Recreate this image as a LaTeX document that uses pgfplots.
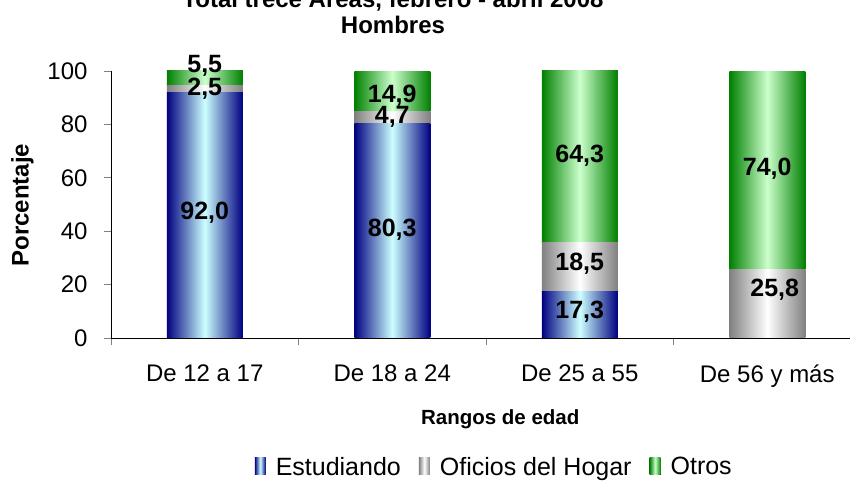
\documentclass[border=0pt]{standalone}
\usepackage{fontspec}
\setmainfont{Liberation Sans}
\usepackage{pgfplots}
\pgfplotsset{compat=1.18}

\definecolor{azulosc}{HTML}{000080}
\definecolor{azulcla}{HTML}{CCFFFF}
\definecolor{grisosc}{HTML}{808080}
\definecolor{verdeosc}{HTML}{008000}
\definecolor{verdecla}{HTML}{CCFFCC}

\pgfplotsset{
  estud/.style={draw=none, left color=azulosc, right color=azulosc, middle color=azulcla},
  hogar/.style={draw=none, left color=grisosc, right color=grisosc, middle color=white},
  otros/.style={draw=none, left color=verdeosc, right color=verdeosc, middle color=verdecla},
  % same frame for every category; each category gets its own axis so that
  % every bar is shaded on its own
  marco/.style={
    at={(111pt,143pt)}, anchor=south west,
    scale only axis,
    width=750pt, height=267pt,
    ybar stacked,
    bar width=76pt,
    xmin=-0.5, xmax=3.5,
    ymin=0, ymax=100,
    enlargelimits=false,
  },
}

\newcommand{\lbl}{\bfseries\fontsize{25}{29}\selectfont}

\begin{document}
\begin{tikzpicture}
\begin{axis}[
    marco,
    axis x line=bottom, axis y line=left,
    axis line style={-, line width=0.9pt},
    xtick={0,1,2,3},
    xticklabels={De 12 a 17, De 18 a 24, De 25 a 55, De 56 y más},
    minor xtick={-0.5,0.5,1.5,2.5},
    major x tick style={draw=none},
    minor x tick style={line width=0.9pt},
    ytick={0,20,40,60,80,100},
    ytick style={line width=0.9pt},
    major tick length=7pt, minor tick length=7pt,
    tick align=outside,
    ticklabel style={font=\fontsize{24}{28}\selectfont},
    xticklabel style={yshift=-16pt},
    yticklabel style={xshift=-13pt},
    /pgf/number format/assume math mode=true,
    xlabel={Rangos de edad},
    xlabel style={font=\bfseries\fontsize{20.5}{24}\selectfont, at={(axis description cs:0.519,-0.305)}, anchor=center},
    ylabel={Porcentaje},
    ylabel style={font=\bfseries\fontsize{24}{28}\selectfont, at={(axis description cs:-0.118,0.498)}, anchor=center, rotate=0},
    title={Total trece Áreas, febrero - abril 2008\\Hombres},
    title style={font=\bfseries\fontsize{24}{26}\selectfont, align=center, at={(axis description cs:0.376,1.205)}, anchor=center},
    legend columns=3,
    legend style={draw=none, at={(axis description cs:0.511,-0.483)}, anchor=center,
        font=\fontsize{25}{29}\selectfont,
        /tikz/every odd column/.append style={column sep=8pt},
        /tikz/every even column/.append style={column sep=16pt}},
    legend image code/.code={\fill[#1] (0pt,-8pt) rectangle (11pt,9pt);},
]
% De 12 a 17
\addplot[estud] coordinates {(0,92.0)};
\addplot[hogar] coordinates {(0,2.5)};
\addplot[otros] coordinates {(0,5.5)};
\legend{Estudiando, Oficios del Hogar, Otros}
\coordinate (a1) at (axis cs:0,46.8);
\coordinate (a2) at (axis cs:0,93.4);
\coordinate (a3) at (axis cs:0,101.8);
\end{axis}

% De 18 a 24
\begin{axis}[marco, hide axis]
\addplot[estud] coordinates {(1,80.3)};
\addplot[hogar] coordinates {(1,4.7)};
\addplot[otros] coordinates {(1,14.9)};
\coordinate (b1) at (axis cs:1,40.4);
\coordinate (b2) at (axis cs:1,82.8);
\coordinate (b3) at (axis cs:1,90.6);
\end{axis}

% De 25 a 55
\begin{axis}[marco, hide axis]
\addplot[estud] coordinates {(2,17.3)};
\addplot[hogar] coordinates {(2,18.5)};
\addplot[otros] coordinates {(2,64.3)};
\coordinate (c1) at (axis cs:2,9.7);
\coordinate (c2) at (axis cs:2,27.7);
\coordinate (c3) at (axis cs:2,68.2);
\end{axis}

% De 56 y mas (Estudiando = 0)
\begin{axis}[marco, hide axis]
\addplot[hogar] coordinates {(3,25.8)};
\addplot[otros] coordinates {(3,74.0)};
\coordinate (d2) at (axis cs:3.04,18.0);
\coordinate (d3) at (axis cs:3,63.3);
\end{axis}

\node[font=\lbl] at (a1) {92,0};
\node[font=\lbl] at (a2) {2,5};
\node[font=\lbl] at (a3) {5,5};
\node[font=\lbl] at (b1) {80,3};
\node[font=\lbl] at (b2) {4,7};
\node[font=\lbl] at (b3) {14,9};
\node[font=\lbl] at (c1) {17,3};
\node[font=\lbl] at (c2) {18,5};
\node[font=\lbl] at (c3) {64,3};
\node[font=\lbl] at (d2) {25,8};
\node[font=\lbl] at (d3) {74,0};
\pgfresetboundingbox
\useasboundingbox (0,0) rectangle (850pt,481pt);
\end{tikzpicture}
\end{document}
